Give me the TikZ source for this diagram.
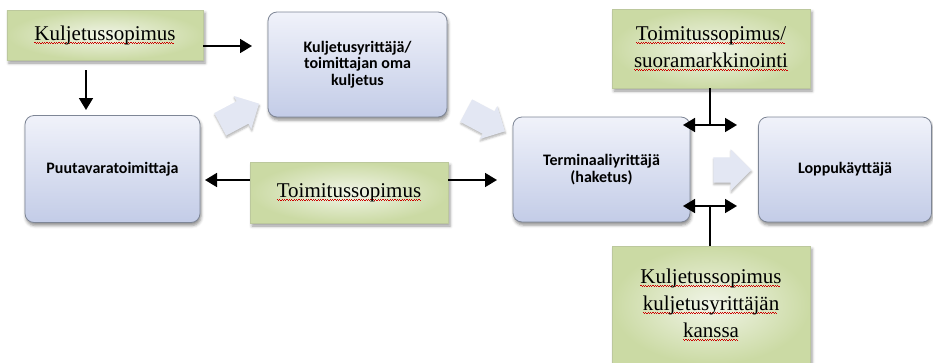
\documentclass[tikz,border=0pt]{standalone}
\usepackage{fontspec}
\setmainfont{Liberation Serif}
\newfontfamily\calibri{Carlito}
\usetikzlibrary{arrows.meta,shapes.arrows,shadows.blur}

\definecolor{boxtop}{HTML}{F0F2FA}
\definecolor{boxbot}{HTML}{C3CCE7}
\definecolor{boxline}{HTML}{7E8696}
\definecolor{leafin}{HTML}{F1F5E8}
\definecolor{leafout}{HTML}{CBDAA4}
\definecolor{hintfill}{HTML}{E3E7F3}

% red spell-check squiggle under the contract texts
\newsavebox\wavybox
\newcommand\wavy[1]{\sbox\wavybox{#1}%
  \rlap{\color{red!80!black}\leaders\hbox{\lower2.4bp\hbox{\vrule width1.2bp height0.6bp}%
    \lower3.2bp\hbox{\vrule width1.2bp height0.6bp}}\hskip\wd\wavybox}\usebox\wavybox}

\tikzset{
  firm/.style={draw=boxline, line width=0.8bp, rounded corners=9bp,
    top color=boxtop, bottom color=boxbot, inner sep=0pt, align=center,
    font=\calibri\bfseries\fontsize{16bp}{16.5bp}\selectfont,
    blur shadow={shadow xshift=1bp, shadow yshift=-3bp, shadow blur radius=3bp, shadow opacity=45}},
  deal/.style={draw=leafout!80!gray, line width=0.4bp,
    inner color=leafin, outer color=leafout, inner sep=0pt, align=center,
    font=\fontsize{21bp}{27bp}\selectfont,
    blur shadow={shadow xshift=2bp, shadow yshift=-3bp, shadow blur radius=3bp, shadow opacity=40}},
  flowarrow/.style={single arrow, fill=hintfill, draw=none, inner xsep=0pt, inner ysep=12.5bp,
    minimum height=44bp, single arrow head extend=6bp,
    blur shadow={shadow xshift=0.5bp, shadow yshift=-2bp, shadow blur radius=2bp, shadow opacity=30}},
  pointer/.style={line width=1.7bp, -{Triangle[length=12bp,width=14bp]}},
  twoway/.style={line width=1.7bp, {Triangle[length=12bp,width=14bp]}-{Triangle[length=12bp,width=14bp]}}
}

\begin{document}
\begin{tikzpicture}[x=1bp,y=-1bp]
  \useasboundingbox (0,0) rectangle (933,362);

  % parties
  \node[firm, minimum width=179bp, minimum height=105bp] (kyr) at (357.5,64.5) {Kuljetusyrittäjä/\\toimittajan oma\\kuljetus};
  \node[firm, minimum width=175bp, minimum height=107bp] (puu) at (112.5,169) {Puutavaratoimittaja};
  \node[firm, minimum width=177bp, minimum height=105bp] (ter) at (601.5,169.5) {Terminaaliyrittäjä\\(haketus)};
  \node[firm, minimum width=173bp, minimum height=105bp] (lop) at (845,169.5) {Loppukäyttäjä};

  % wood flow
  \node[flowarrow, rotate=28] (f1) at (234,117) {}; % puu -> kyr
  \node[flowarrow, rotate=-28] (f2) at (480,118) {}; % kyr -> ter
  \node[flowarrow, minimum height=38bp, single arrow head extend=8bp] (f3) at (726,170) {}; % ter -> lop

  % contracts
  \node[deal, minimum width=196bp, minimum height=50bp] (kso) at (105,35) {\wavy{Kuljetussopimus}};
  \node[deal, minimum width=198bp, minimum height=61bp] (tso) at (349,192.5) {\wavy{Toimitussopimus}};
  \node[deal, minimum width=198bp, minimum height=79bp] (tsu) at (711,48.5) {\wavy{Toimitussopimus/}\\\wavy{suoramarkkinointi}};
  \node[deal, minimum width=198bp, minimum height=118bp] (kks) at (711,305) {\wavy{Kuljetussopimus}\\\wavy{kuljetusyrittäjän}\\\wavy{kanssa}};

  % arrow ends
  \coordinate (a1) at (252,46);
  \coordinate (a2) at (86,110);
  \coordinate (a3) at (205,180);
  \coordinate (a4) at (497,180);
  \coordinate (j1) at (710,125);
  \coordinate (j2) at (710,206);

  \draw[pointer] (kso.east |- a1) -- (a1); % kso -- kyr
  \draw[pointer] ([yshift=-10bp]kso.south -| a2) -- (a2); % kso -- puu
  \draw[pointer] (tso.west |- a3) -- (a3); % tso -- puu
  \draw[pointer] (tso.east |- a4) -- (a4); % tso -- ter
  \draw[line width=1.7bp] (tsu.south -| j1) -- (j1); % tsu -- ter/lop
  \draw[twoway] ([xshift=-27bp]j1) -- ([xshift=27bp]j1);
  \draw[line width=1.7bp] (kks.north -| j2) -- (j2); % kks -- ter/lop
  \draw[twoway] ([xshift=-27bp]j2) -- ([xshift=27bp]j2);
\end{tikzpicture}
\end{document}
